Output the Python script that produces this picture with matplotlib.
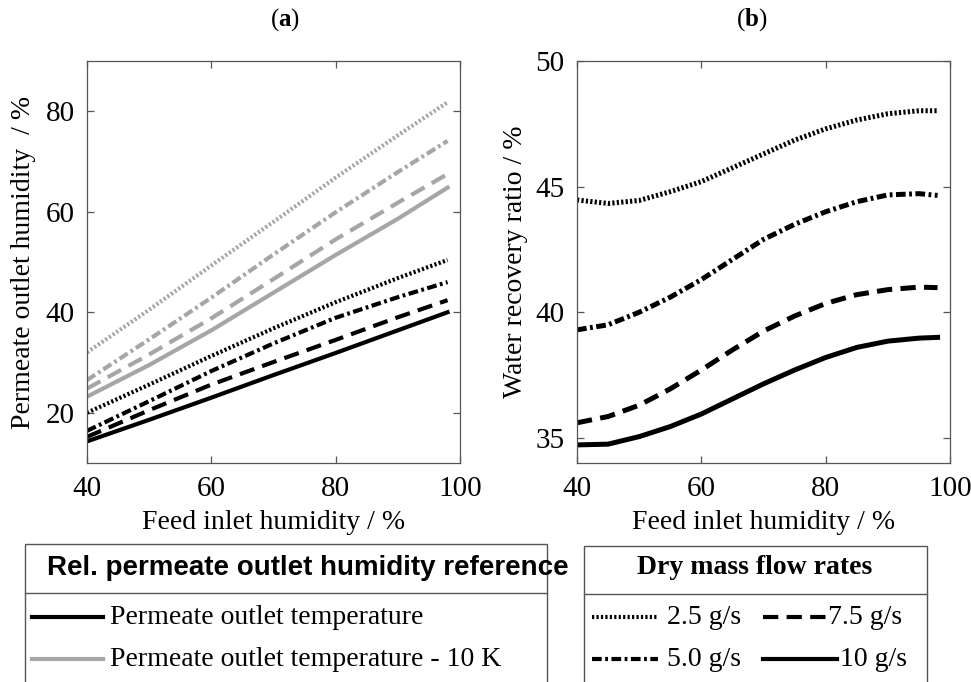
import numpy as np
import matplotlib
matplotlib.use("Agg")
import matplotlib.pyplot as plt
from matplotlib.patches import Rectangle

plt.rcParams['font.family'] = ['Liberation Serif', 'DejaVu Serif']
plt.rcParams['mathtext.fontset'] = 'custom'
plt.rcParams['mathtext.rm'] = 'Liberation Serif'
plt.rcParams['mathtext.bf'] = 'Liberation Serif:bold'
plt.rcParams['lines.scale_dashes'] = False

# panel (a): permeate outlet humidity vs feed inlet humidity
x_a = [40, 50, 60, 70, 80, 90, 98]
ref_T = {
    "2.5": [20.0, 25.6, 31.3, 36.8, 42.0, 46.8, 50.4],
    "5.0": [16.4, 22.3, 28.3, 33.8, 38.9, 43.0, 46.0],
    "7.5": [15.2, 20.5, 25.6, 30.1, 34.5, 39.0, 42.4],
    "10": [14.3, 18.6, 23.0, 27.5, 31.9, 36.4, 40.0],
}
ref_T10 = {
    "2.5": [32.0, 40.5, 49.3, 58.0, 66.8, 75.2, 81.8],
    "5.0": [26.5, 34.6, 42.9, 51.5, 59.9, 67.9, 74.1],
    "7.5": [24.8, 31.6, 38.8, 46.6, 54.5, 61.8, 67.5],
    "10": [23.2, 29.5, 36.4, 43.9, 51.4, 58.6, 64.8],
}

# panel (b): water recovery ratio
x_b = [40, 45, 50, 55, 60, 65, 70, 75, 80, 85, 90, 95, 98]
wrr = {
    "2.5": [44.47, 44.33, 44.45, 44.8, 45.2, 45.75, 46.3, 46.85, 47.3, 47.65, 47.9, 48.02, 48.02],
    "5.0": [39.3, 39.5, 40.0, 40.6, 41.3, 42.1, 42.9, 43.5, 44.0, 44.4, 44.67, 44.72, 44.65],
    "7.5": [35.6, 35.85, 36.3, 36.95, 37.7, 38.5, 39.25, 39.85, 40.35, 40.7, 40.9, 41.0, 40.98],
    "10": [34.72, 34.75, 35.05, 35.45, 35.95, 36.55, 37.15, 37.7, 38.2, 38.6, 38.85, 38.97, 39.0],
}

styles = {
    "2.5": (0, (1.6, 1.6)),
    "5.0": (0, (7, 2.5, 2, 2.5)),
    "7.5": (0, (11, 6)),
    "10": "-",
}
gray = "#a6a6a6"
spine_c = "#555555"

W, H = 971, 682
fig = plt.figure(figsize=(W / 100, H / 100), dpi=100)


def px_axes(l, t, r, b):
    return fig.add_axes([l / W, 1 - b / H, (r - l) / W, (b - t) / H])


def style_axes(ax):
    for s in ax.spines.values():
        s.set_color(spine_c)
        s.set_linewidth(0.9)
    ax.tick_params(direction="in", top=True, right=True, length=5,
                   color=spine_c, labelsize=21, pad=9, width=0.9)


ax1 = px_axes(87, 61, 460, 463)
for k in ["2.5", "5.0", "7.5", "10"]:
    ax1.plot(x_a, ref_T10[k], color=gray, lw=3.0, ls=styles[k])
for k in ["2.5", "5.0", "7.5", "10"]:
    ax1.plot(x_a, ref_T[k], color="black", lw=3.0, ls=styles[k])
ax1.set_xlim(40, 100)
ax1.set_ylim(10, 90)
ax1.set_xticks([40, 60, 80, 100])
ax1.set_yticks([20, 40, 60, 80])
style_axes(ax1)
ax1.set_xlabel("Feed inlet humidity / %", fontsize=20, labelpad=6)
ax1.set_ylabel("Permeate outlet humidity  / %", fontsize=20, labelpad=7)

ax2 = px_axes(577, 61, 950, 463)
for k in ["2.5", "5.0", "7.5", "10"]:
    ax2.plot(x_b, wrr[k], color="black", lw=3.6, ls=styles[k])
ax2.set_xlim(40, 100)
ax2.set_ylim(34, 50)
ax2.set_xticks([40, 60, 80, 100])
ax2.set_yticks([35, 40, 45, 50])
style_axes(ax2)
ax2.set_xlabel("Feed inlet humidity / %", fontsize=20, labelpad=6)
ax2.set_ylabel("Water recovery ratio / %", fontsize=20, labelpad=5)

fig.text(285 / W, 1 - 20 / H, "($\\mathbf{a}$)", ha="center", va="center", fontsize=18)
fig.text(752 / W, 1 - 20 / H, "($\\mathbf{b}$)", ha="center", va="center", fontsize=18)

# legend tables drawn in pixel coordinates
lax = fig.add_axes([0, 0, 1, 1])
lax.set_xlim(0, W)
lax.set_ylim(H, 0)
lax.axis("off")
for (l, t, r) in [(25, 544, 547), (584, 546, 927)]:
    lax.add_patch(Rectangle((l, t), r - l, H + 10 - t, fill=False,
                            ec=spine_c, lw=1.0, clip_on=False))
lax.plot([25, 547], [593, 593], color=spine_c, lw=1.0)
lax.plot([584, 927], [594, 594], color=spine_c, lw=1.0)

lax.text(47, 568, "Rel. permeate outlet humidity reference", family="Liberation Sans",
         weight="bold", fontsize=20, ha="left", va="center")
lax.plot([32, 103], [617, 617], color="black", lw=3.0)
lax.plot([32, 103], [659, 659], color=gray, lw=3.0)
lax.text(110, 617, "Permeate outlet temperature", fontsize=20, ha="left", va="center")
lax.text(110, 659, "Permeate outlet temperature - 10 K", fontsize=20, ha="left", va="center")

lax.text(755, 567, "Dry mass flow rates", weight="bold", fontsize=20,
         ha="center", va="center")
for k, (x0, x1, y, tx) in {"2.5": (592, 658, 617, 667), "7.5": (763, 826, 617, 828),
                           "5.0": (592, 658, 659, 667), "10": (763, 837, 659, 840)}.items():
    lax.plot([x0, x1], [y, y], color="black", lw=3.0, ls=styles[k])
    lax.text(tx, y, f"{k} g/s", fontsize=20, ha="left", va="center")

fig.savefig("out.png", dpi=100)
